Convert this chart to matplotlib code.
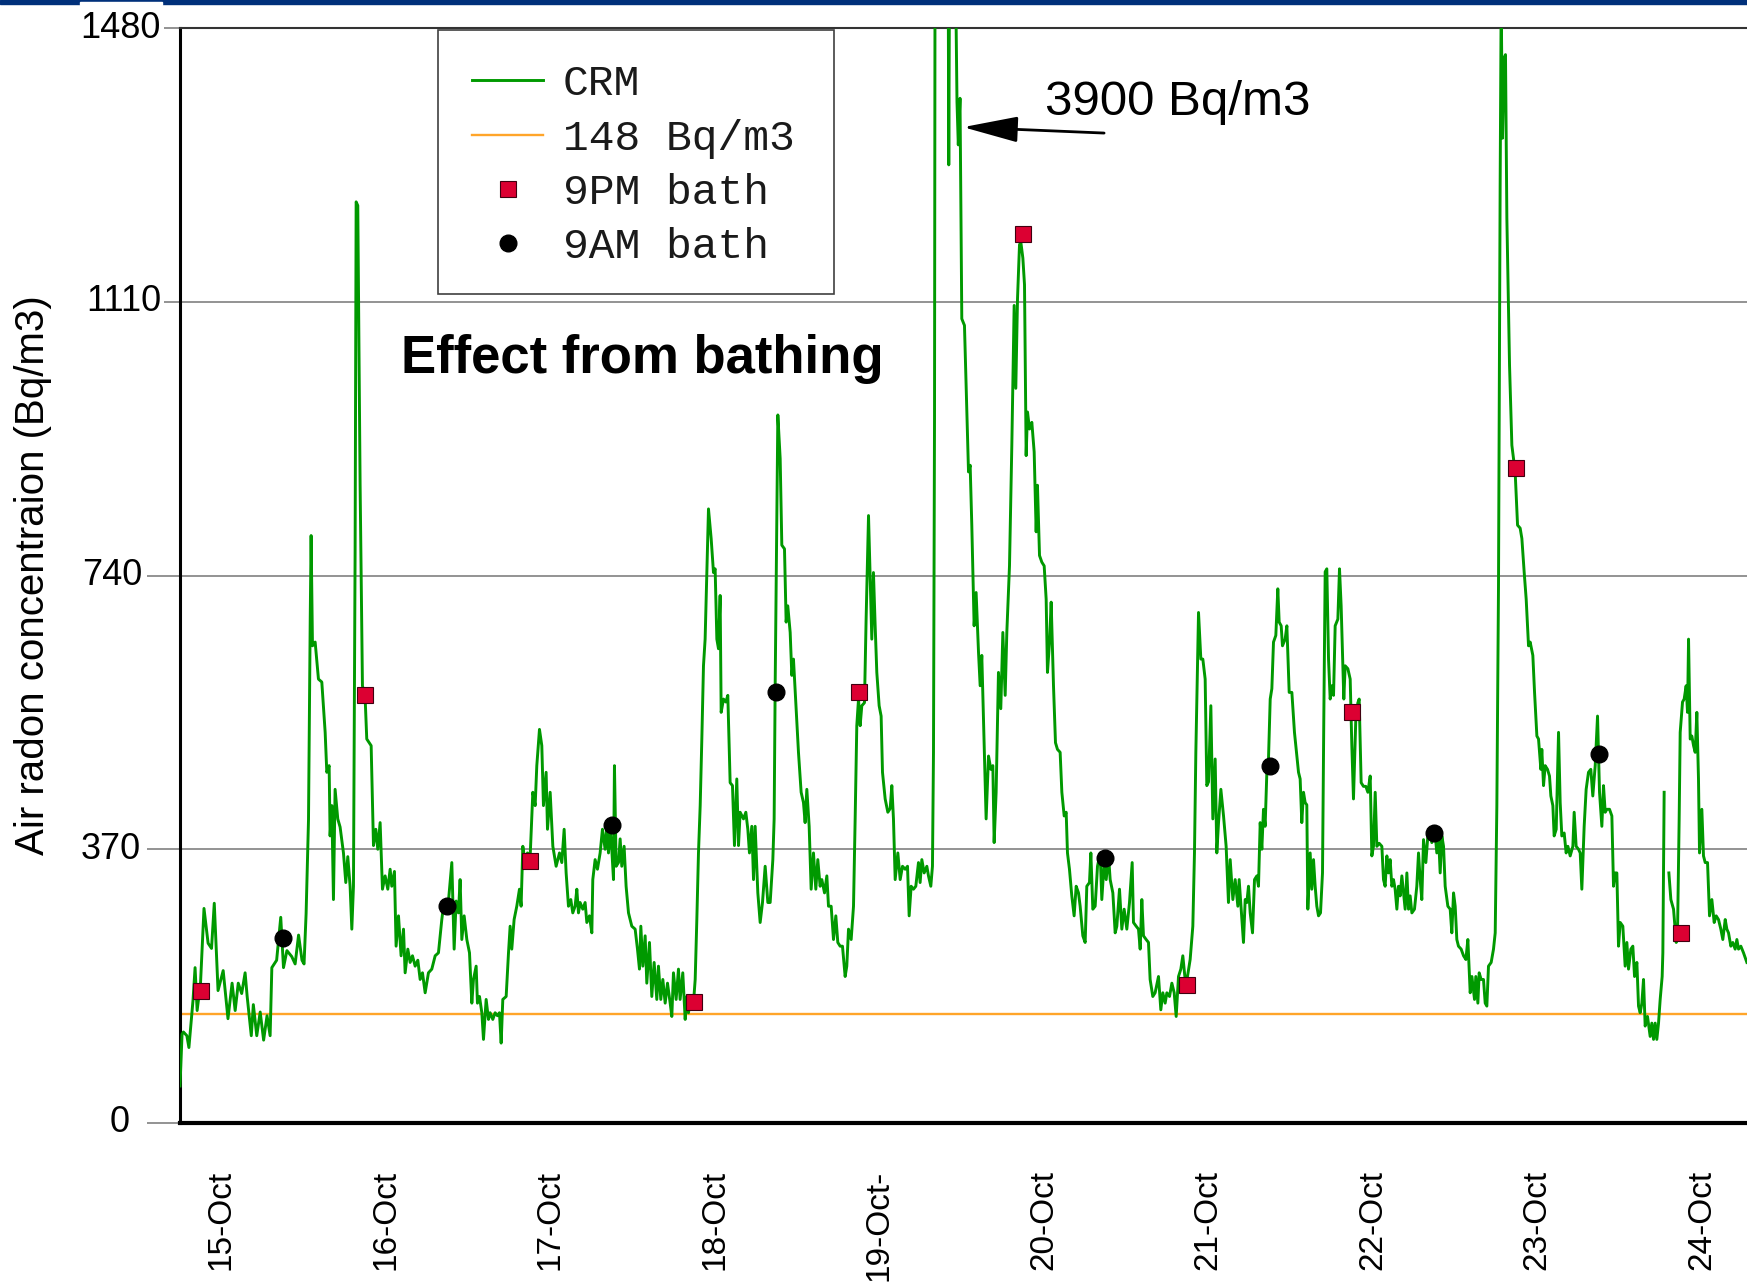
import numpy as np
import matplotlib
matplotlib.use("Agg")
import matplotlib.pyplot as plt
from matplotlib.patches import Rectangle

# ---- data -------------------------------------------------------------
# time in hours after 15-Oct 00:00, radon concentration in Bq/m3
hours = [
    -6.0, -5.7, -5.5, -5.0, -4.7, -4.1, -3.8, -3.5, -3.0, -2.5, -1.9, -1.4, -1.0, -0.45,
    0.3, 1.0, 1.6, 2.05, 2.5, 3.0, 3.5, 3.8, 4.4, 4.7, 5.2, 5.7, 6.2, 6.7, 7.15, 7.4,
    8.1, 8.7, 9.1, 9.6, 10.3, 10.8, 11.3, 11.8, 12.1, 12.4, 12.75, 13.0, 13.13,
    13.33, 13.72, 14.20, 14.69, 15.18, 15.42, 15.76, 15.90, 16.15, 16.39, 16.63, 17.02,
    17.36, 17.85, 18.19, 18.48, 18.82, 19.07, 19.31, 19.55, 19.70, 19.94, 20.28, 20.62,
    21.01, 21.25, 21.89, 22.23, 22.57, 22.86, 23.20, 23.54, 23.93, 24.32, 24.66, 24.90,
    25.29, 25.53, 25.88, 26.26, 26.61, 26.85, 27.24, 27.58, 27.92, 28.31, 28.70, 29.04,
    29.38, 29.77, 30.25, 30.74, 31.23, 31.71, 32.20,
    32.44, 33.17, 33.66, 34.00, 34.29, 34.63, 34.87, 35.12, 35.46, 35.85, 36.24, 36.58,
    36.82, 37.21, 37.40, 37.70, 38.04, 38.28, 38.67, 39.01, 39.25, 39.64, 39.98, 40.32,
    40.61, 40.86, 41.10, 41.59, 41.93, 42.17, 42.41, 42.75, 43.14, 43.53, 43.77, 44.02,
    44.36, 44.70, 45.09, 45.48, 45.82, 46.06, 46.45, 46.79, 47.03, 47.42, 47.62, 48.01,
    48.40, 48.88, 49.37, 49.71, 50.05, 50.34, 50.68, 51.02, 51.31, 51.65, 51.90, 52.14,
    52.38, 52.77, 53.11, 53.36, 53.74, 54.09, 54.23, 54.57, 54.91, 55.30, 55.64, 56.03,
    56.27, 56.52, 56.76, 57.00, 57.25, 57.39, 57.64, 57.98, 58.22, 58.46, 58.80, 59.09,
    59.44, 59.92, 60.41, 60.75, 61.04, 61.24, 61.53, 61.87, 62.11, 62.50, 62.84, 63.18,
    63.57, 63.81, 64.15, 64.45, 64.79, 65.13, 65.52, 65.76, 66.00, 66.39, 66.73, 66.97,
    67.36, 67.71, 67.95, 68.19, 68.53, 68.92, 69.17, 69.41, 69.65, 69.90, 70.14, 70.38,
    70.62, 70.87,
    71.11, 71.50, 71.84, 72.08, 72.33, 72.57, 72.81, 72.96, 73.30, 73.64, 73.93, 74.27,
    74.61, 74.90, 75.24, 75.49, 75.73, 76.22, 76.56, 76.85, 77.09, 77.43, 77.68, 77.92,
    78.31, 78.65, 78.99, 79.38, 79.77, 80.11, 80.50, 80.69, 80.84, 81.03, 81.23, 81.57,
    81.81, 82.20, 82.44, 82.68, 83.03, 83.27, 83.51, 83.85, 84.24, 84.63, 84.97, 85.21,
    85.46, 85.80, 86.09, 86.43, 86.77, 87.06, 87.40, 87.65, 88.04, 88.38, 88.62, 89.01,
    89.35, 89.69, 89.98, 90.32, 90.66, 91.05, 91.29, 91.54, 91.93, 92.27, 92.51, 92.75,
    93.00, 93.24, 93.48, 93.87, 94.11, 94.46, 94.70, 94.94, 95.18, 95.43, 95.67, 96.01,
    96.30, 96.50, 96.89, 97.28, 97.62, 97.86, 98.10, 98.35, 98.74, 99.08, 99.42, 99.81,
    100.15, 100.39, 100.68, 101.02, 101.36, 101.75, 101.99, 102.24, 102.58, 102.97,
    103.21, 103.55, 103.79, 103.94, 104.09, 104.28, 104.67, 105.25, 105.88, 106.17,
    106.46, 106.98, 107.37, 107.56, 107.81, 108.07, 108.46, 109.05,
    109.29, 109.53, 109.87, 110.16, 110.51, 110.75, 110.99, 111.24, 111.62, 111.97,
    112.31, 112.60, 112.79, 113.08, 113.42, 113.76, 114.06, 114.40, 114.64, 115.03,
    115.37, 115.71, 115.95, 116.20, 116.49, 116.68, 116.98, 117.22, 117.46, 117.66,
    117.95, 118.29, 118.63, 118.92, 119.11, 119.41, 119.75, 120.09, 120.38, 120.57,
    120.87, 121.11, 121.45, 121.74, 122.03, 122.42, 122.67, 123.01, 123.30, 123.49,
    123.78, 124.12, 124.46, 124.76, 125.10, 125.34, 125.73, 126.07, 126.31, 126.70,
    126.90, 127.19, 127.53, 127.87, 128.26, 128.50, 128.84, 129.14, 129.48, 129.72,
    130.11, 130.45, 130.69, 131.08, 131.42, 131.76, 132.15, 132.54, 132.93, 133.12,
    133.51, 133.85, 134.10, 134.34, 134.58, 134.97, 135.31, 135.55, 135.94, 136.28,
    136.77, 137.11, 137.40, 137.74, 137.99, 138.38, 138.72, 139.06, 139.35, 139.69,
    140.03, 140.32, 140.66, 141.00, 141.39, 141.78, 142.02, 142.22, 142.61, 142.95,
    143.24, 143.58, 143.82, 144.07, 144.41, 144.70, 145.04, 145.28, 145.53, 145.87,
    146.26, 146.64, 146.98, 147.23, 147.62, 147.96,
    148.35, 148.54, 148.83, 149.17, 149.42, 149.66, 149.90, 150.15, 150.49, 150.78,
    151.12, 151.36, 151.61, 151.85, 152.09, 152.33, 152.58, 152.82, 153.07, 153.31,
    153.55, 153.89, 154.18, 154.38, 154.67, 154.86, 155.25, 155.50, 155.84, 156.23,
    156.61, 156.95, 157.20, 157.44, 157.68, 157.93, 158.17, 158.41, 158.56, 158.90,
    159.14, 159.39, 159.63, 159.87, 160.12, 160.41, 160.70, 160.89, 161.09, 161.33,
    161.58, 161.82, 162.06, 162.31, 162.55, 162.94, 163.18, 163.42, 163.62, 163.81,
    164.01, 164.40, 164.74, 164.98, 165.22, 165.56, 165.86, 166.05, 166.34, 166.68,
    167.02, 167.32, 167.66, 167.90, 168.14, 168.39, 168.63, 168.97, 169.36, 169.60,
    169.84, 170.09, 170.33, 170.57, 170.82, 171.06, 171.30, 171.55, 171.79, 172.03,
    172.28, 172.52, 172.76, 173.01, 173.25, 173.49, 173.74, 174.12, 174.46, 174.71,
    174.95, 175.19, 175.44, 175.78, 176.07, 176.41, 176.65, 177.04, 177.38, 177.63,
    177.87, 178.11, 178.36, 178.60, 178.99, 179.33, 179.57, 179.82, 180.06, 180.30,
    180.54, 180.93, 181.28, 181.62, 181.91, 182.25, 182.50, 182.88, 183.07, 183.37,
    183.56, 183.85, 184.19, 184.44, 184.68, 184.92, 185.31, 185.65, 185.90, 186.14,
    186.38,
    186.62, 186.77, 186.96, 187.21, 187.40, 187.60, 187.99, 188.33, 188.81, 189.16,
    189.54, 189.79, 190.13, 190.42, 190.76, 191.00, 191.39, 191.64, 191.98, 192.22,
    192.56, 192.70, 192.95, 193.19, 193.53, 193.82, 194.02, 194.31, 194.50, 194.80,
    195.14, 195.38, 195.62, 195.96, 196.25, 196.50, 196.84, 197.23, 197.42, 197.71,
    198.05, 198.30, 198.54, 198.88, 199.17, 199.51, 199.85, 200.14, 200.49, 200.83,
    201.12, 201.46, 201.70, 201.95, 202.19, 202.58, 202.92, 203.16, 203.41, 203.65,
    203.89, 204.14, 204.52, 204.86, 205.11, 205.35, 205.69, 205.98, 206.23, 206.57,
    206.81, 207.05, 207.30, 207.54, 207.78, 208.12, 208.51, 208.75, 209.00, 209.24,
    209.48, 209.73, 209.97, 210.26, 210.36, 210.55, 210.90,
    211.24, 211.53, 211.92, 212.31, 212.50, 212.74, 212.89, 213.23, 213.47, 213.76,
    213.96, 214.11, 214.35, 214.59, 214.84, 215.08, 215.32, 215.56, 215.71, 216.05,
    216.29, 216.54, 216.88, 217.17, 217.51, 217.85, 218.14, 218.48, 218.82, 219.11,
    219.46, 219.70, 219.94, 220.28, 220.57, 220.91, 221.16, 221.40, 221.74, 222.13,
    222.62,
]

radon = [
    50, 120, 123, 118, 102, 166, 210, 152, 190, 290, 243, 236, 297, 179,
    206, 141, 189, 152, 189, 175, 203, 171, 118, 160, 118, 150, 112, 145, 118, 210,
    220, 278, 210, 233, 225, 215, 254, 220, 215, 283, 410, 681, 794,
    645, 650, 600, 596, 528, 474, 483, 388, 429, 302, 451, 411,
    400, 365, 325, 360, 320, 262, 320, 772, 1245, 1240, 862, 591,
    575, 519, 510, 375, 397, 370, 406, 316, 334, 316, 343, 320,
    340, 239, 280, 226, 262, 203, 235, 217, 226, 212, 220, 194,
    203, 176, 203, 208, 226, 230, 275,
    293, 300, 352, 235, 300, 284, 329, 248, 280, 248, 230, 162,
    194, 212, 162, 171, 149, 113, 167, 140, 149, 140, 149, 145,
    149, 108, 167, 171, 230, 266, 235, 275, 293, 316, 293, 374,
    352, 365, 360, 447, 429, 483, 532, 510, 429, 474, 397, 447,
    374, 347, 365, 352, 397, 338, 293, 302, 284, 293, 316, 284,
    298, 289, 298, 271, 280, 257, 329, 356, 343, 365, 397, 370,
    401, 365, 401, 370, 329, 483, 347, 352, 384, 347, 374, 320,
    284, 266, 262, 235, 208, 266, 212, 253, 189, 244, 171, 217,
    167, 212, 167, 194, 162, 189, 162, 144, 203, 167, 208, 167,
    203, 140, 171, 149, 171, 162, 194, 275, 365, 429, 519, 618,
    654, 744,
    830, 790, 744, 749, 654, 641, 713, 555, 573, 569, 578, 460,
    456, 375, 465, 375, 420, 411, 420, 397, 365, 401, 329, 401,
    311, 271, 298, 347, 298, 298, 356, 411, 591, 772, 957, 898,
    781, 776, 677, 699, 663, 605, 627, 568, 501, 447, 433, 406,
    451, 401, 316, 365, 316, 356, 320, 329, 311, 334, 293, 293,
    248, 280, 244, 239, 239, 198, 212, 262, 248, 293, 411, 537,
    573, 537, 564, 568, 681, 821, 736, 654, 744, 672, 609, 564,
    550, 474, 438, 420, 425, 456, 411, 329, 365, 329, 347, 343,
    347, 280, 320, 316, 320, 352, 325, 356, 338, 347,
    334, 320, 347, 501, 952, 2500, 3900, 3000, 2200, 1295,
    2000, 1700, 1380, 1322, 1385, 1087, 1078, 880,
    889, 808, 672, 717, 636, 591, 632, 546, 411, 496,
    478, 483, 379, 447, 609, 560, 663, 578, 663, 753,
    916, 1105, 993, 1114, 1187, 1191, 1169, 1133, 902, 961,
    938, 947, 907, 799, 862, 767, 758, 753, 708, 609,
    650, 704, 591, 514, 505, 501, 447, 415, 420, 365,
    343, 307, 280, 320, 311, 293, 253, 244, 320, 325,
    365, 289, 293, 347, 365, 302, 352, 329, 361, 329,
    311, 257, 266, 316, 262, 289, 262, 298, 352, 271,
    266, 262, 235, 302, 253, 248, 244, 194, 171, 176,
    198, 153, 176, 162, 176, 171, 189, 176, 144, 198,
    208, 226, 194, 198, 221, 266, 365, 501, 690, 627,
    627, 600, 456, 461, 564, 411, 492, 365, 406, 451,
    415, 374, 298, 356, 302, 329,
    293, 329, 289, 244, 302, 298, 320, 284, 257, 329,
    334, 320, 406, 370, 424, 401, 474, 492, 573, 587,
    650, 659, 722, 677, 672, 645, 654, 672, 582, 582,
    528, 496, 474, 465, 406, 447, 433, 430, 289, 365,
    316, 356, 320, 293, 280, 284, 338, 546, 745, 749,
    627, 573, 591, 578, 672, 681, 749, 699, 636, 573,
    618, 614, 600, 510, 438, 546, 568, 573, 460, 455,
    455, 447, 469, 361, 374, 447, 374, 378, 374, 329,
    320, 361, 338, 356, 320, 329, 316, 289, 320, 307,
    334, 311, 289, 338, 289, 307, 284, 289, 320, 365,
    329, 302, 383, 352, 388, 392, 379, 401, 365, 388,
    338, 388, 374, 320, 293, 289, 257, 311, 293, 248,
    239, 235, 226, 221, 248, 176, 198, 167, 198, 162,
    203, 194, 194, 162, 158, 212, 217, 235, 257, 429,
    726,
    1268, 1520, 1331, 1440, 1444, 1223, 1024, 916, 880, 808,
    804, 790, 744, 708, 645, 650, 632, 582, 523, 519,
    478, 505, 456, 483, 478, 469, 442, 429, 388, 397,
    528, 433, 388, 392, 365, 374, 361, 374, 420, 374,
    370, 365, 316, 401, 451, 474, 478, 442, 483, 550,
    447, 401, 456, 420, 424, 424, 415, 320, 338, 338,
    239, 271, 266, 212, 244, 208, 235, 239, 198, 217,
    158, 149, 162, 194, 131, 144, 117, 135, 113, 135,
    113, 135, 167, 198, 230, 447, np.nan,
    338, 302, 289, 244, 257, 411, 528, 569, 573, 591,
    555, 654, 519, 523, 510, 501, 555, 465, 365, 424,
    361, 352, 352, 280, 302, 271, 280, 275, 262, 248,
    275, 262, 257, 239, 244, 235, 248, 235, 239, 230,
    217,
]

# bath events (hours after 15-Oct 00:00) and the reading at that time
pm_bath_hours = [-3, 21, 45, 69, 93, 117, 141, 165, 189, 213]
pm_bath_values = [178, 579, 354, 163, 582, 1201, 186, 556, 885, 257]
am_bath_hours = [9, 33, 57, 81, 129, 153, 177, 201]
am_bath_values = [250, 293, 403, 583, 358, 482, 392, 499]

reference_level = 148
y_ticks = [0, 370, 740, 1110, 1480]
day_labels = ["15-Oct", "16-Oct", "17-Oct", "18-Oct", "19-Oct-",
              "20-Oct", "21-Oct", "22-Oct", "23-Oct", "24-Oct"]

# ---- figure -----------------------------------------------------------
W, H = 1747, 1285
fig = plt.figure(figsize=(W / 100, H / 100), dpi=100)
sans = "Liberation Sans"
mono = "Liberation Mono"

ax_left, ax_top, ax_bottom = 180, 28, 1123
ax_w = W - ax_left
ax = fig.add_axes([ax_left / W, 1 - ax_bottom / H,
                   ax_w / W, (ax_bottom - ax_top) / H])

t_days = np.array(hours) / 24.0
ax.plot(t_days, radon, color="#009900", lw=2.1, label="CRM", zorder=3)
ax.axhline(reference_level, color="#FFA52A", lw=1.7, label="148 Bq/m3", zorder=2)
ax.plot(np.array(pm_bath_hours) / 24.0, pm_bath_values, ls="none", marker="s",
        ms=11.5, mfc="#DC0032", mec="#400010", mew=0.8, label="9PM bath", zorder=4)
ax.plot(np.array(am_bath_hours) / 24.0, am_bath_values, ls="none", marker="o",
        ms=12, mfc="black", mec="black", label="9AM bath", zorder=4)

ax.set_xlim(-0.25, (W - 221) / 164.5)
ax.set_ylim(0, 1480)

# y ticks: gray marks, labels placed by hand (right edges in pixels from the left)
ax.set_yticks(y_ticks)
ax.set_yticklabels([])
ax.tick_params(axis="y", length=24, width=1.2, color="#808080")
label_right_px = [130, 141, 142, 161, 161]
ytrans = ax.get_yaxis_transform()
for v, rx in zip(y_ticks, label_right_px):
    ax.text((rx - ax_left) / ax_w, v, str(v), transform=ytrans, ha="right",
            va="center", fontsize=26, family=sans, clip_on=False,
            bbox=dict(facecolor="white", edgecolor="none", pad=2))

ax.set_xticks(range(len(day_labels)))
ax.set_xticklabels(day_labels, rotation=90, fontsize=24, family=sans)
ax.tick_params(axis="x", length=0, pad=34)

ax.yaxis.grid(True, color="#808080", lw=1.2, zorder=0)
ax.set_axisbelow(True)
ax.spines["right"].set_visible(False)
ax.spines["top"].set_color("#333333")
ax.spines["top"].set_linewidth(1.5)
ax.spines["left"].set_linewidth(2.2)
ax.spines["bottom"].set_linewidth(3.0)

fig.text(33 / W, 1 - 575 / H, "Air radon concentraion (Bq/m3)", rotation=90,
         ha="center", va="center", fontsize=29, family=sans)

fig.text(401 / W, 1 - 359 / H, "Effect from bathing", ha="left", va="center",
         fontsize=38, fontweight="bold", family=sans)

ax.annotate("", xy=(108.26 / 24, 1346), xytext=(5.368, 1338),
            arrowprops=dict(arrowstyle="-|>,head_length=3.4,head_width=0.8",
                            mutation_scale=10, lw=2, color="black",
                            shrinkA=0, shrinkB=0))
fig.text(1045 / W, 1 - 115 / H, "3900 Bq/m3", ha="left", va="baseline",
         fontsize=35.5, family=sans)

# legend box drawn as a plain rectangle, entries placed inside it
ax.add_patch(Rectangle((438 / W, 1 - 294 / H), 396 / W, 264 / H,
                       transform=fig.transFigure, facecolor="white",
                       edgecolor="#404040", lw=1.2, zorder=4.8, clip_on=False))
leg = ax.legend(loc="upper left", bbox_to_anchor=(438 / W, 1 - 30 / H),
                bbox_transform=fig.transFigure, borderaxespad=0,
                prop={"family": mono, "size": 31}, frameon=False,
                borderpad=0.8, labelspacing=0.33, handlelength=1.65,
                handletextpad=0.45, numpoints=1)
leg.set_zorder(5)
for txt in leg.get_texts():
    txt.set_color("#1a1a1a")

# navy strip along the top edge
fig.patches.append(Rectangle((0, 1 - 4 / H), 1, 4 / H, transform=fig.transFigure,
                             color="#00307A", zorder=10))
fig.patches.append(Rectangle((80 / W, 1 - 5 / H), 82 / W, 3 / H,
                             transform=fig.transFigure, color="white", zorder=11))

fig.savefig("out.png", dpi=100)
